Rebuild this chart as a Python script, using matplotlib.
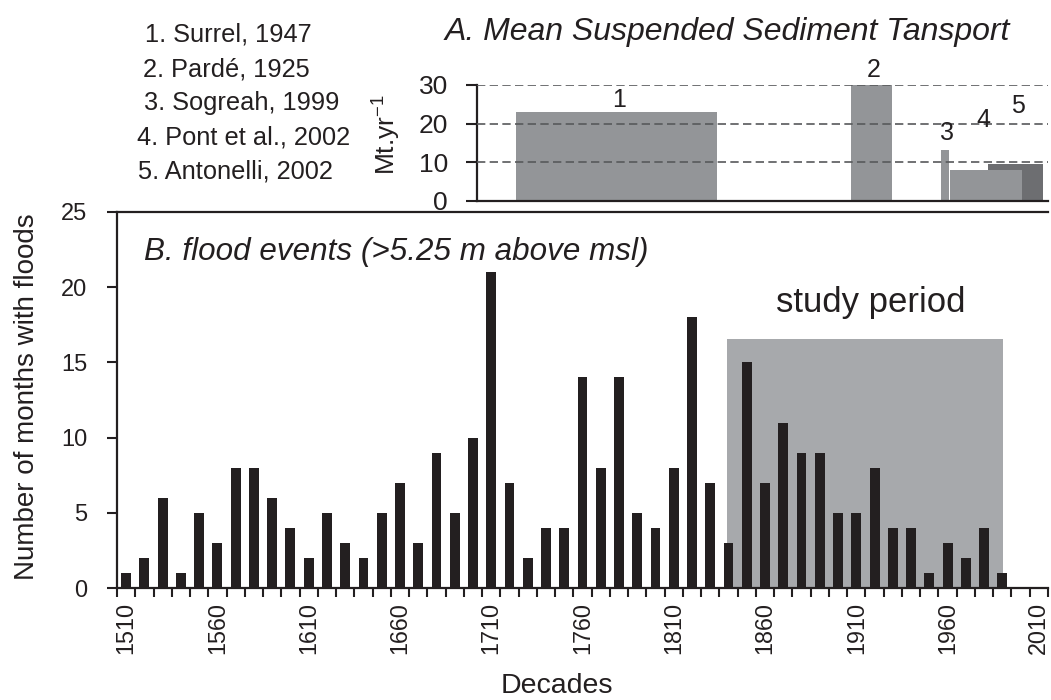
import numpy as np
import matplotlib
matplotlib.use("Agg")
import matplotlib.pyplot as plt

plt.rcParams['font.family'] = ['Liberation Sans', 'DejaVu Sans']
plt.rcParams['mathtext.fontset'] = 'custom'
plt.rcParams['mathtext.rm'] = 'Liberation Sans'
plt.rcParams['mathtext.it'] = 'Liberation Sans:italic'

INK = '#231f20'

# B. flood events per decade
decades = np.arange(1510, 2000, 10)
floods = [1, 2, 6, 1, 5, 3, 8, 8, 6, 4, 2, 5, 3, 2, 5, 7, 3, 9, 5, 10, 21, 7, 2, 4, 4,
          14, 8, 14, 5, 4, 8, 18, 7, 3, 15, 7, 11, 9, 9, 5, 5, 8, 4, 4, 1, 3, 2, 4, 1]
study_period = (1839, 1990.5)
study_top = 16.55
label_years = np.arange(1510, 2011, 50)

# A. mean suspended sediment transport (periods covered by each source)
src_labels = ['1', '2', '3', '4', '5']
src_names = ['1. Surrel, 1947', '2. Pardé, 1925', '3. Sogreah, 1999',
             '4. Pont et al., 2002', '5. Antonelli, 2002']
src_start = [1723.5, 1907.1, 1956.4, 1961.3, 1982.1]
src_end = [1833.5, 1929.5, 1960.8, 2000.8, 2012.3]
src_value = [23, 30, 13.2, 8, 9.6]

W, H = 1051, 700
fig = plt.figure(figsize=(W / 100, H / 100), dpi=100)

def fx(px):
    return px / W

def fy(py):
    return 1 - py / H

# main panel
x0, x1 = 1505, 2015
ax = fig.add_axes([fx(117), fy(588.3), fx(1048) - fx(117), fy(211.7) - fy(588.3)])
ax.fill_between(study_period, 0, study_top, color='#a7a9ac', lw=0, zorder=1)
ax.bar(decades, floods, width=5.4, color=INK, zorder=2)
ax.set_xlim(x0, x1)
ax.set_ylim(0, 25)
ax.set_yticks(range(0, 26, 5))
ax.set_xticks(label_years)
ax.set_xticklabels([str(y) for y in label_years], rotation=90)
ax.set_xticks(np.arange(1505, 2016, 10), minor=True)
ax.tick_params(axis='x', which='major', length=0, pad=9.6, labelsize=16.8, labelcolor=INK)
ax.tick_params(axis='x', which='minor', length=6.5, width=1.5, color=INK, direction='out')
ax.tick_params(axis='y', length=7.2, width=1.5, color=INK, pad=14, labelsize=17, labelcolor=INK)
ax.spines['right'].set_visible(False)
for s in ['left', 'bottom', 'top']:
    ax.spines[s].set_linewidth(1.6)
    ax.spines[s].set_color(INK)
ax.text(1918, 18.35, 'study period', ha='center', va='baseline', fontsize=25, color=INK)

fig.text(fx(144), fy(260), 'B. flood events (>5.25 m above msl)', style='italic',
         fontsize=22.6, color=INK, ha='left', va='baseline')
fig.text(fx(27), fy(397), 'Number of months with floods', rotation=90,
         ha='center', va='center', fontsize=20, color=INK)
fig.text(fx(557), fy(693), 'Decades', ha='center', va='baseline', fontsize=20.5, color=INK)

# inset panel A, same year scale as the main panel
px_per_year = (1048 - 117) / (x1 - x0)
ix0 = x0 + (477.3 - 117) / px_per_year
axi = fig.add_axes([fx(477.3), fy(201), fx(1048) - fx(477.3), fy(85) - fy(201)])
bar_colors = ['#939598', '#939598', '#939598', '#939598', '#6d6e71']
order = [0, 1, 2, 4, 3]  # bar 4 sits over bar 5
for i in order:
    axi.bar(src_start[i], src_value[i], width=src_end[i] - src_start[i], align='edge',
            color=bar_colors[i], lw=0, zorder=2)
for v in (10, 20, 30):
    axi.axhline(v, color='#58595b', lw=1.2, ls=(0, (5, 2.6)), zorder=3)
axi.set_xlim(ix0, x1)
axi.set_ylim(0, 30)
axi.set_yticks([0, 10, 20, 30])
axi.set_xticks([])
axi.tick_params(axis='y', length=7.7, width=1.5, color=INK, pad=13.5, labelsize=19, labelcolor=INK)
for s in ['top', 'right']:
    axi.spines[s].set_visible(False)
for s in ['left', 'bottom']:
    axi.spines[s].set_linewidth(1.6)
    axi.spines[s].set_color(INK)
axi.patch.set_alpha(0)

lab_x = [1780.0, 1919.4, 1959.9, 1979.7, 1998.4]
lab_y = [24.4, 32.0, 15.8, 19.2, 22.7]
for t, xx, yy in zip(src_labels, lab_x, lab_y):
    axi.text(xx, yy, t, ha='center', va='baseline', fontsize=18, color=INK, clip_on=False)

fig.text(fx(387), fy(135), 'Mt.yr$^{-1}$', rotation=90, ha='center', va='center',
         fontsize=19, color=INK)
fig.text(fx(445), fy(40), 'A. Mean Suspended Sediment Tansport', style='italic',
         fontsize=23, color=INK, ha='left', va='baseline')

# source list
name_left = [145, 143, 144, 137, 138]
name_base = [41.7, 76, 110, 144, 178.3]
for t, lx, by in zip(src_names, name_left, name_base):
    fig.text(fx(lx), fy(by), t, fontsize=18.3, color=INK, ha='left', va='baseline')

fig.savefig('out.png', dpi=100)
